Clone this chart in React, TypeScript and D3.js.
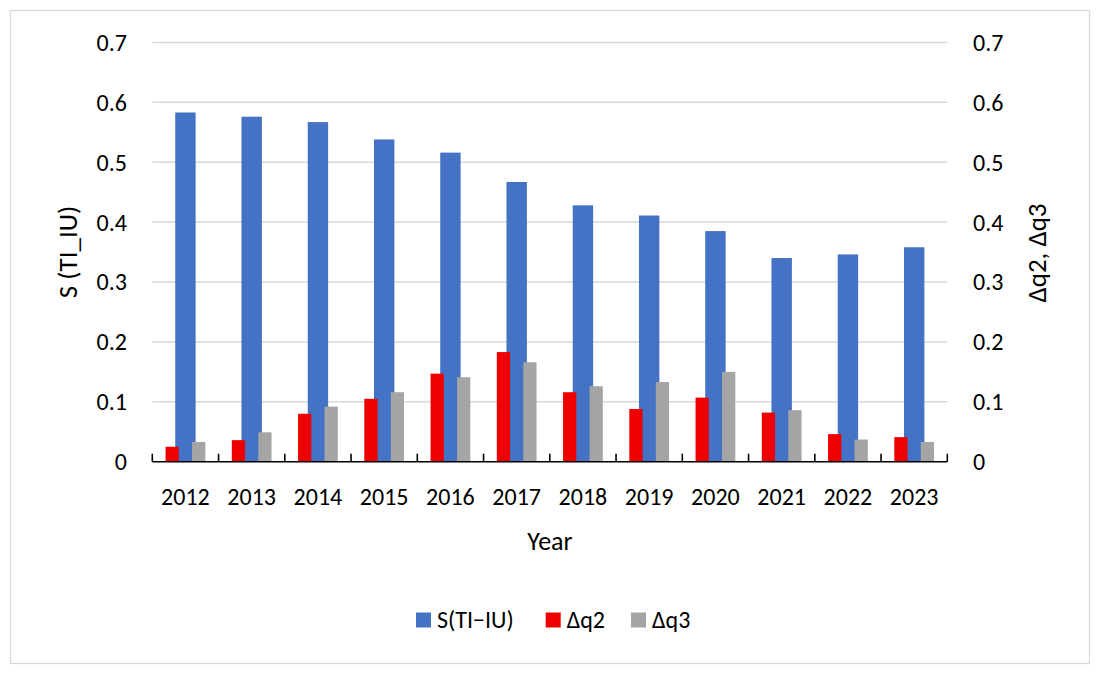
import * as d3 from "d3";
import { useEffect, useRef } from "react";

const years = ["2012", "2013", "2014", "2015", "2016", "2017", "2018", "2019", "2020", "2021", "2022", "2023"];
const sValues = [0.583, 0.576, 0.567, 0.538, 0.516, 0.467, 0.428, 0.411, 0.385, 0.34, 0.346, 0.358];
const dq2Values = [0.025, 0.036, 0.08, 0.105, 0.147, 0.183, 0.116, 0.088, 0.107, 0.082, 0.046, 0.041];
const dq3Values = [0.033, 0.049, 0.092, 0.116, 0.141, 0.166, 0.126, 0.133, 0.15, 0.086, 0.037, 0.033];
const yTicks = [0, 0.1, 0.2, 0.3, 0.4, 0.5, 0.6, 0.7];
const legendItems = [
  { label: "S(TI\u2212IU)", color: "#4472c4" },
  { label: "\u0394q2", color: "#ee0000" },
  { label: "\u0394q3", color: "#a5a5a5" }
];

const FONT = "Calibri, Carlito, Lato, 'Open Sans', sans-serif";

export default function App() {
  const ref = useRef<SVGSVGElement | null>(null);

  useEffect(() => {
    if (!ref.current) {
      return;
    }
    const width = 1100;
    const height = 674;
    const svg = d3.select(ref.current);
    svg.selectAll("*").remove();
    svg.attr("viewBox", `0 0 ${width} ${height}`);

    const left = 152.3;
    const right = 947.3;
    const top = 42.4;
    const bottom = 461.7;

    // chart frame
    svg
      .append("rect")
      .attr("x", 10.5)
      .attr("y", 10.5)
      .attr("width", 1079)
      .attr("height", 653)
      .attr("fill", "#fff")
      .attr("stroke", "#d9d9d9")
      .attr("stroke-width", 1.3);

    const x = d3.scaleBand().domain(years).range([left, right]).padding(0);
    const yLeft = d3.scaleLinear().domain([0, 0.7]).range([bottom, top]);
    const yRight = d3.scaleLinear().domain([0, 0.7]).range([bottom, top]);

    // gridlines
    svg
      .append("g")
      .selectAll("line")
      .data(yTicks.filter((t) => t > 0))
      .join("line")
      .attr("x1", left)
      .attr("x2", right)
      .attr("y1", (d) => yLeft(d))
      .attr("y2", (d) => yLeft(d))
      .attr("stroke", "#d9d9d9")
      .attr("stroke-width", 1.5);

    const tickFmt = (d: number) => (d === 0 ? "0" : d3.format(".1f")(d));

    // left tick labels
    svg
      .append("g")
      .selectAll("text")
      .data(yTicks)
      .join("text")
      .attr("x", 127)
      .attr("y", (d) => yLeft(d))
      .attr("dy", "0.35em")
      .attr("text-anchor", "end")
      .attr("font-family", FONT)
      .attr("font-size", 24)
      .attr("fill", "#000")
      .text(tickFmt);

    // right tick labels
    svg
      .append("g")
      .selectAll("text")
      .data(yTicks)
      .join("text")
      .attr("x", 973)
      .attr("y", (d) => yRight(d))
      .attr("dy", "0.35em")
      .attr("text-anchor", "start")
      .attr("font-family", FONT)
      .attr("font-size", 24)
      .attr("fill", "#000")
      .text(tickFmt);

    const bw = x.bandwidth();
    const mainWidth = bw * 0.308;
    const subWidth = bw * 0.2;

    // primary series
    svg
      .append("g")
      .selectAll("rect")
      .data(sValues)
      .join("rect")
      .attr("x", (_, i) => (x(years[i]) ?? 0) + bw / 2 - mainWidth / 2)
      .attr("y", (d) => yLeft(d))
      .attr("width", mainWidth)
      .attr("height", (d) => bottom - yLeft(d))
      .attr("fill", legendItems[0].color);

    // secondary series
    svg
      .append("g")
      .selectAll("rect")
      .data(dq2Values)
      .join("rect")
      .attr("x", (_, i) => (x(years[i]) ?? 0) + bw / 2 - subWidth * 1.5)
      .attr("y", (d) => yRight(d))
      .attr("width", subWidth)
      .attr("height", (d) => bottom - yRight(d))
      .attr("fill", legendItems[1].color);

    svg
      .append("g")
      .selectAll("rect")
      .data(dq3Values)
      .join("rect")
      .attr("x", (_, i) => (x(years[i]) ?? 0) + bw / 2 + subWidth * 0.5)
      .attr("y", (d) => yRight(d))
      .attr("width", subWidth)
      .attr("height", (d) => bottom - yRight(d))
      .attr("fill", legendItems[2].color);

    // x axis line and ticks
    svg
      .append("line")
      .attr("x1", left)
      .attr("x2", right)
      .attr("y1", bottom)
      .attr("y2", bottom)
      .attr("stroke", "#000")
      .attr("stroke-width", 1.6);

    const tickPos = years.map((y) => x(y) ?? 0).concat([right]);
    svg
      .append("g")
      .selectAll("line")
      .data(tickPos)
      .join("line")
      .attr("x1", (d) => d)
      .attr("x2", (d) => d)
      .attr("y1", bottom - 8)
      .attr("y2", bottom)
      .attr("stroke", "#000")
      .attr("stroke-width", 1.6);

    // year labels
    svg
      .append("g")
      .selectAll("text")
      .data(years)
      .join("text")
      .attr("x", (d) => (x(d) ?? 0) + bw / 2)
      .attr("y", 505)
      .attr("text-anchor", "middle")
      .attr("font-family", FONT)
      .attr("font-size", 24)
      .attr("fill", "#000")
      .text((d) => d);

    // axis titles
    svg
      .append("text")
      .attr("x", 550)
      .attr("y", 550)
      .attr("text-anchor", "middle")
      .attr("font-family", FONT)
      .attr("font-size", 26)
      .attr("fill", "#000")
      .text("Year");

    svg
      .append("text")
      .attr("transform", "translate(77, 252) rotate(-90)")
      .attr("text-anchor", "middle")
      .attr("font-family", FONT)
      .attr("font-size", 27)
      .attr("fill", "#000")
      .text("S (TI_IU)");

    svg
      .append("text")
      .attr("transform", "translate(1046, 253) rotate(-90)")
      .attr("text-anchor", "middle")
      .attr("font-family", FONT)
      .attr("font-size", 27)
      .attr("fill", "#000")
      .text("\u0394q2, \u0394q3");

    // legend
    const legendX = [416, 545.7, 631];
    const legend = svg
      .append("g")
      .selectAll("g")
      .data(legendItems)
      .join("g")
      .attr("transform", (_, i) => `translate(${legendX[i]}, 620)`);
    legend
      .append("rect")
      .attr("x", 0)
      .attr("y", -7.5)
      .attr("width", 15)
      .attr("height", 15)
      .attr("fill", (d) => d.color);
    legend
      .append("text")
      .attr("x", 21)
      .attr("y", 0)
      .attr("dy", "0.35em")
      .attr("font-family", FONT)
      .attr("font-size", 24)
      .attr("fill", "#000")
      .text((d) => d.label);
  }, []);

  return (
    <svg
      ref={ref}
      width={1100}
      height={674}
      style={{ position: "absolute", left: 0, top: 0 }}
      aria-label="bar chart"
    />
  );
}
